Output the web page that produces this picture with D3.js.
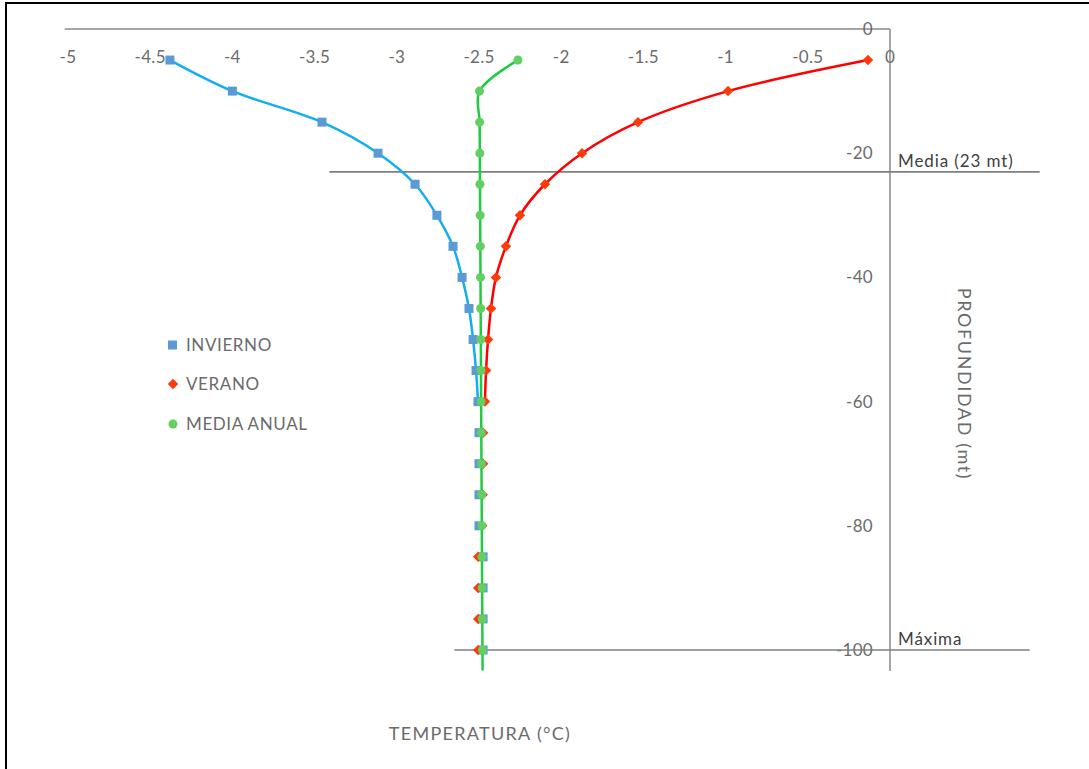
<!DOCTYPE html>
<html><head><meta charset="utf-8">
<script src="https://cdn.jsdelivr.net/npm/d3@7/dist/d3.min.js"></script>
<style>body{margin:0;background:#fff}svg text{font-family:Lato,"Open Sans",sans-serif}</style>
</head><body><svg id="c" width="1089" height="769"></svg>
<script>
// ---- data ----
const depths = [-5,-10,-15,-20,-25,-30,-35,-40,-45,-50,-55,-60,-65,-70,-75,-80,-85,-90,-95,-100];
const invierno = [-4.38,-4.00,-3.455,-3.114,-2.889,-2.756,-2.658,-2.603,-2.561,-2.536,-2.518,-2.506,-2.50,-2.50,-2.50,-2.50,-2.475,-2.475,-2.475,-2.475];
const verano = [-0.134,-0.985,-1.533,-1.873,-2.099,-2.251,-2.336,-2.397,-2.427,-2.445,-2.457,-2.464,-2.475,-2.475,-2.478,-2.48,-2.505,-2.505,-2.505,-2.505];
const mediaAnual = [-2.263,-2.497,-2.496,-2.495,-2.494,-2.493,-2.492,-2.491,-2.490,-2.489,-2.488,-2.487,-2.486,-2.485,-2.484,-2.483,-2.482,-2.481,-2.480,-2.479];
const mediaAnualTailDepth = -103.3, mediaAnualTailTemp = -2.478;
const curveDepthLimit = -60; // invierno / verano curves drawn down to this depth
const xTicks = [-5,-4.5,-4,-3.5,-3,-2.5,-2,-1.5,-1,-0.5,0];
const yTicks = [0,-20,-40,-60,-80,-100];
const refLines = [
  {label:"Media (23 mt)", depth:-23, from:-3.41, to:0.91},
  {label:"Máxima", depth:-100, from:-2.65, to:0.85}
];
const seriesNames = ["INVIERNO","VERANO","MEDIA ANUAL"];

// ---- scales ----
const x = d3.scaleLinear().domain([-5,0]).range([68,890]);
const y = d3.scaleLinear().domain([0,-100]).range([29,650]);
const svg = d3.select("#c");

// frame
svg.append("path").attr("d","M6,769 V3 H1089").attr("fill","none").attr("stroke","#000").attr("stroke-width",2);

const grey = "#6b6b6b";
svg.append("line").attr("x1",x(-5.02)).attr("x2",x(0)).attr("y1",y(0)).attr("y2",y(0)).attr("stroke","#a6a6a6").attr("stroke-width",2);
svg.append("line").attr("x1",x(0)).attr("x2",x(0)).attr("y1",y(0)).attr("y2",y(-103.4)).attr("stroke","#a6a6a6").attr("stroke-width",2);

svg.selectAll(".xt").data(xTicks).enter().append("text")
  .attr("x",d=>x(d)).attr("y",63).attr("text-anchor","middle").attr("font-size",17).attr("fill",grey)
  .attr("letter-spacing",0.3).text(d=>String(d));
svg.selectAll(".yt").data(yTicks).enter().append("text")
  .attr("x",873).attr("y",d=>y(d)+6).attr("text-anchor","end").attr("font-size",17).attr("fill",grey)
  .attr("letter-spacing",0.3).text(d=>String(d));

refLines.forEach(r=>{
  svg.append("line").attr("x1",x(r.from)).attr("x2",x(r.to)).attr("y1",y(r.depth)).attr("y2",y(r.depth))
    .attr("stroke","#7f7f7f").attr("stroke-width",1.6);
  svg.append("text").attr("x",x(0)+8).attr("y",y(r.depth)-5).attr("font-size",17).attr("letter-spacing",0.9)
    .attr("fill","#404040").text(r.label);
});

svg.append("text").attr("x",480).attr("y",740).attr("text-anchor","middle").attr("font-size",18).attr("letter-spacing",1.3).attr("fill",grey).text("TEMPERATURA (°C)");
svg.append("text").attr("transform","translate(958,384) rotate(90)").attr("text-anchor","middle").attr("font-size",18).attr("letter-spacing",1.6).attr("fill",grey).text("PROFUNDIDAD (mt)");

const line = d3.line().x(d=>x(d[0])).y(d=>y(d[1])).curve(d3.curveCatmullRom.alpha(0.5));
const pts = arr => arr.map((v,i)=>[v,depths[i]]);
const upper = arr => pts(arr).filter(d=>d[1]>=curveDepthLimit);

const colors = {inv:{line:"#12aef0",mark:"#5b9bd5"}, ver:{line:"#ff0000",mark:"#ff3a0a"}, med:{line:"#1fcb3f",mark:"#62cf62"}};

svg.append("path").attr("d",line(upper(invierno))).attr("fill","none").attr("stroke",colors.inv.line).attr("stroke-width",2.5);
svg.append("path").attr("d",line(upper(verano))).attr("fill","none").attr("stroke",colors.ver.line).attr("stroke-width",2.5);

svg.selectAll(".mi").data(pts(invierno)).enter().append("rect")
  .attr("x",d=>x(d[0])-4.5).attr("y",d=>y(d[1])-4.5).attr("width",9).attr("height",9).attr("fill",colors.inv.mark);
const diamond = d3.symbol().type(d3.symbolDiamond2).size(70);
svg.selectAll(".mv").data(pts(verano)).enter().append("path")
  .attr("d",diamond).attr("transform",d=>`translate(${x(d[0])},${y(d[1])})`).attr("fill",colors.ver.mark);

const medPts = pts(mediaAnual).concat([[mediaAnualTailTemp, mediaAnualTailDepth]]);
svg.append("path").attr("d",line(medPts)).attr("fill","none").attr("stroke",colors.med.line).attr("stroke-width",2.5);
svg.selectAll(".mm").data(pts(mediaAnual)).enter().append("circle")
  .attr("cx",d=>x(d[0])).attr("cy",d=>y(d[1])).attr("r",4.5).attr("fill",colors.med.mark);

const lg = svg.append("g");
const ly = [345,384,424];
lg.append("rect").attr("x",168).attr("y",ly[0]-4.5).attr("width",9).attr("height",9).attr("fill",colors.inv.mark);
lg.append("path").attr("d",diamond).attr("transform",`translate(173,${ly[1]})`).attr("fill",colors.ver.mark);
lg.append("circle").attr("cx",173).attr("cy",ly[2]).attr("r",4.5).attr("fill",colors.med.mark);
seriesNames.forEach((n,i)=>{
  lg.append("text").attr("x",186).attr("y",ly[i]+6).attr("font-size",17).attr("letter-spacing",0.6).attr("fill",grey).text(n);
});
</script></body></html>
